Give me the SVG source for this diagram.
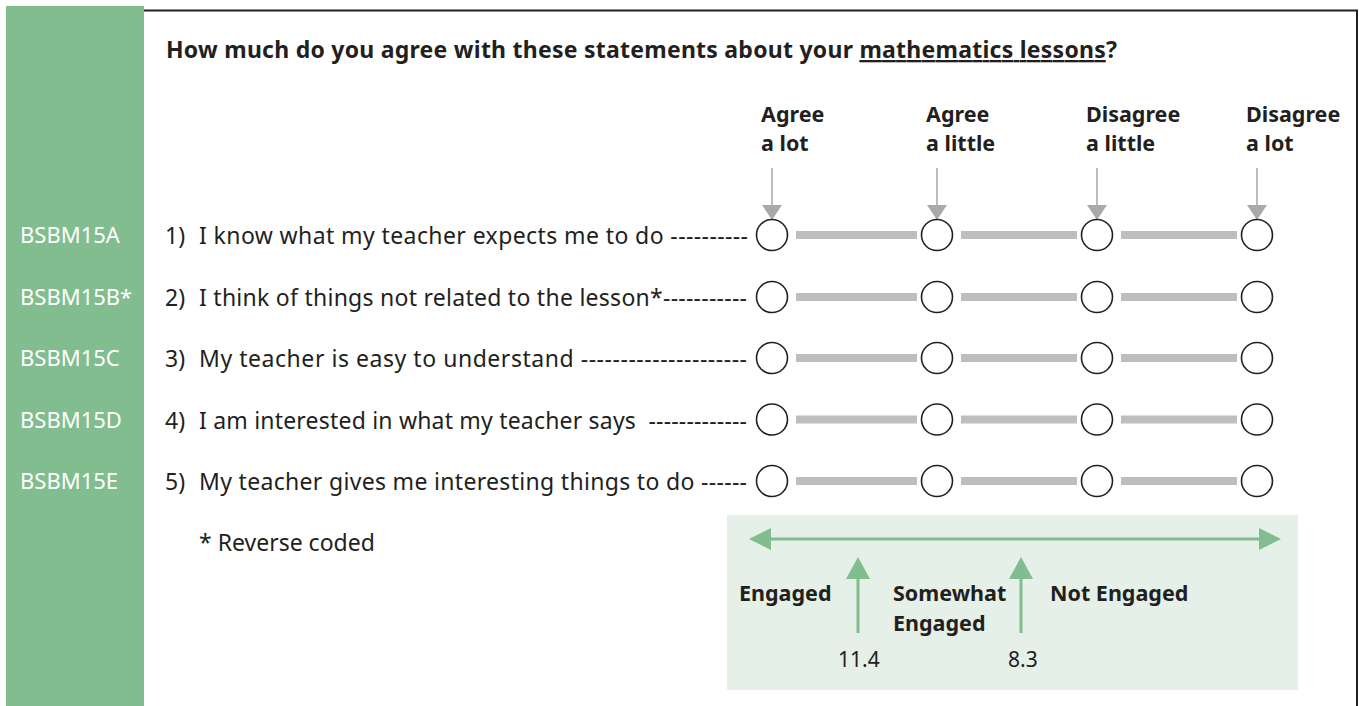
<svg xmlns="http://www.w3.org/2000/svg" width="1359" height="706" viewBox="0 0 1359 706">
<style>
.t{font-family:"Noto Sans","Liberation Sans",sans-serif;font-size:23px;fill:#231f20}
.b{font-family:"Noto Sans","Liberation Sans",sans-serif;font-size:21.5px;font-weight:bold;fill:#231f20}
.ttl{font-family:"Noto Sans","Liberation Sans",sans-serif;font-size:23px;font-weight:bold;fill:#231f20}
.code{font-family:"Noto Sans","Liberation Sans",sans-serif;font-size:22px;fill:#ffffff}
.num{font-family:"Noto Sans","Liberation Sans",sans-serif;font-size:21px;fill:#231f20}
.opt{fill:#ffffff;stroke:#231f20;stroke-width:1.6}
.bar{fill:#bcbec0}
.garr{stroke:#a7a9ac;stroke-width:1.5}
.garh{fill:#a7a9ac}
.gr{stroke:#82bd8f;stroke-width:3}
.grh{fill:#82bd8f}
</style>
<defs>
<g id="scale">
<circle class="opt" cx="772" cy="0" r="15.5"/>
<rect class="bar" x="796" y="-4" width="121" height="8"/>
<circle class="opt" cx="937" cy="0" r="15.5"/>
<rect class="bar" x="961" y="-4" width="116" height="8"/>
<circle class="opt" cx="1097" cy="0" r="15.5"/>
<rect class="bar" x="1121" y="-4" width="116" height="8"/>
<circle class="opt" cx="1257" cy="0" r="15.5"/>
</g>
</defs>
<rect x="0" y="0" width="1359" height="706" fill="#ffffff"/>
<g id="frame">
<rect x="6" y="6" width="138" height="700" fill="#82bd8f"/>
<line x1="144" y1="10.5" x2="1358" y2="10.5" stroke="#231f20" stroke-width="2"/>
<line x1="1357" y1="10" x2="1357" y2="706" stroke="#231f20" stroke-width="2"/>
</g>
<g id="title">
<text class="ttl" x="166" y="58" textLength="951">How much do you agree with these statements about your <tspan text-decoration="underline">mathematics lessons</tspan>?</text>
</g>
<g id="options">
<text class="b" x="761" y="122">Agree</text><text class="b" x="761" y="151">a lot</text>
<text class="b" x="926" y="122">Agree</text><text class="b" x="926" y="151">a little</text>
<text class="b" x="1086" y="122">Disagree</text><text class="b" x="1086" y="151">a little</text>
<text class="b" x="1246" y="122">Disagree</text><text class="b" x="1246" y="151">a lot</text>
</g>
<g id="connectors">
<line class="garr" x1="772" y1="168" x2="772" y2="206"/><polygon class="garh" points="762,205 782,205 772,220"/>
<line class="garr" x1="937" y1="168" x2="937" y2="206"/><polygon class="garh" points="927,205 947,205 937,220"/>
<line class="garr" x1="1097" y1="168" x2="1097" y2="206"/><polygon class="garh" points="1087,205 1107,205 1097,220"/>
<line class="garr" x1="1257" y1="168" x2="1257" y2="206"/><polygon class="garh" points="1247,205 1267,205 1257,220"/>
</g>
<g id="item1">
<text class="code" x="20" y="243">BSBM15A</text>
<text class="t" x="165" y="244">1)</text>
<text class="t" x="199" y="244" textLength="549">I know what my teacher expects me to do ----------</text>
<use href="#scale" y="235"/>
</g>
<g id="item2">
<text class="code" x="20" y="305">BSBM15B*</text>
<text class="t" x="165" y="306">2)</text>
<text class="t" x="199" y="306" textLength="548">I think of things not related to the lesson*-----------</text>
<use href="#scale" y="297"/>
</g>
<g id="item3">
<text class="code" x="20" y="366">BSBM15C</text>
<text class="t" x="165" y="367">3)</text>
<text class="t" x="199" y="367" textLength="548">My teacher is easy to understand ---------------------</text>
<use href="#scale" y="358"/>
</g>
<g id="item4">
<text class="code" x="20" y="428">BSBM15D</text>
<text class="t" x="165" y="429">4)</text>
<text class="t" x="199" y="429" xml:space="preserve" textLength="548">I am interested in what my teacher says  -------------</text>
<use href="#scale" y="419.5"/>
</g>
<g id="item5">
<text class="code" x="20" y="489">BSBM15E</text>
<text class="t" x="165" y="490">5)</text>
<text class="t" x="199" y="490" textLength="548">My teacher gives me interesting things to do ------</text>
<use href="#scale" y="481"/>
</g>
<g id="note">
<text class="t" x="199" y="551">* Reverse coded</text>
</g>
<g id="engagement">
<rect x="727" y="515" width="571" height="175" fill="#e4f0e8"/>
<line class="gr" x1="765" y1="539" x2="1265" y2="539"/>
<polygon class="grh" points="749,539 771,528 771,550"/>
<polygon class="grh" points="1281,539 1259,528 1259,550"/>
<line class="gr" x1="858" y1="575" x2="858" y2="633"/>
<polygon class="grh" points="858,557 846,579 870,579"/>
<line class="gr" x1="1021" y1="575" x2="1021" y2="633"/>
<polygon class="grh" points="1021,557 1009,579 1033,579"/>
<text class="b" x="739" y="601">Engaged</text>
<text class="b" x="893" y="601">Somewhat</text>
<text class="b" x="893" y="631">Engaged</text>
<text class="b" x="1050" y="601">Not Engaged</text>
<text class="num" x="838" y="667">11.4</text>
<text class="num" x="1008" y="667">8.3</text>
</g>
</svg>
